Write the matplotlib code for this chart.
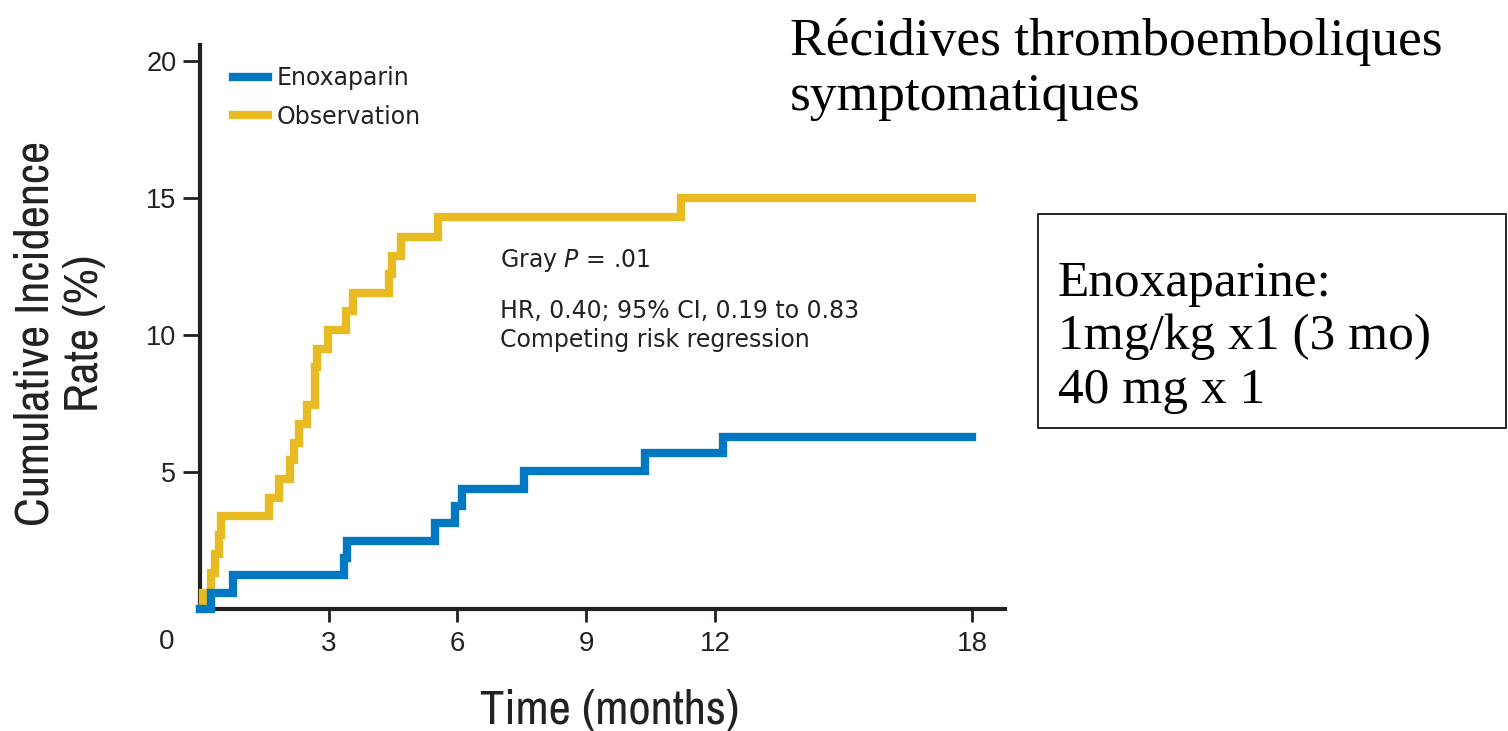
import matplotlib
matplotlib.use("Agg")
import matplotlib.pyplot as plt
from matplotlib.patches import Rectangle
from matplotlib import font_manager

# cumulative incidence (months, %)
obs_t = [0, 0.08, 0.25, 0.35, 0.45, 0.5, 1.6, 1.85, 2.1, 2.2, 2.3, 2.5,
         2.68, 2.72, 2.98, 3.4, 3.57, 4.41, 4.47, 4.68, 5.54, 11.2, 18]
obs_v = [0, 0.6, 1.3, 2.0, 2.7, 3.4, 4.05, 4.75, 5.45, 6.05, 6.75, 7.45,
         8.85, 9.5, 10.2, 10.9, 11.55, 12.25, 12.9, 13.6, 14.3, 15.0, 15.0]

eno_t = [0, 0.26, 0.78, 3.36, 3.42, 5.48, 5.94, 6.1, 7.54, 10.37, 12.18, 18]
eno_v = [0, 0.6, 1.25, 1.85, 2.5, 3.15, 3.75, 4.4, 5.05, 5.7, 6.3, 6.3]

xticks = [3, 6, 9, 12, 18]
yticks = [5, 10, 15, 20]

YELLOW = '#E8BB22'
BLUE = '#0079C2'
DARK = '#231F20'
TXT = '#222222'

# look for a narrow sans for the axis titles
narrow_fam = None
for f in font_manager.fontManager.ttflist:
    n = f.name
    if ('Narrow' in n or 'Condensed' in n) and 'Serif' not in n and 'Mono' not in n:
        narrow_fam = n
        break
narrow_kw = {'family': narrow_fam} if narrow_fam else {'family': 'Liberation Sans'}
narrow_size = 35 if narrow_fam else 28

W, H = 1508, 731


def fx(px):
    return px / W


def fy(py):
    return 1 - py / H


fig = plt.figure(figsize=(W / 100, H / 100), dpi=100)
ax = fig.add_axes([200 / W, 122 / H, 805 / W, 564 / H])

ax.plot(obs_t, obs_v, drawstyle='steps-post', color=YELLOW, lw=6,
        solid_joinstyle='miter', clip_on=False, label='Observation', zorder=3)
ax.plot(eno_t, eno_v, drawstyle='steps-post', color=BLUE, lw=6,
        solid_joinstyle='miter', clip_on=False, label='Enoxaparin', zorder=4)

ax.set_xlim(0, 18.76)
ax.set_ylim(0, 20.6)
ax.set_xticks(xticks)
ax.set_yticks(yticks)
for s in ['top', 'right']:
    ax.spines[s].set_visible(False)
for s in ['left', 'bottom']:
    ax.spines[s].set_linewidth(3)
    ax.spines[s].set_color(DARK)
ax.tick_params(axis='y', length=12, width=2, pad=5, colors=DARK,
               labelsize=19.5, labelcolor=TXT)
ax.tick_params(axis='x', length=9, width=2, pad=7, colors=DARK,
               labelsize=20, labelcolor=TXT)
for lab in ax.get_xticklabels() + ax.get_yticklabels():
    lab.set_family('Liberation Sans')
ax.annotate('0', xy=(0, 0), xytext=(-33, -33), textcoords='offset pixels',
            ha='center', va='center', fontsize=20, family='Liberation Sans',
            color=TXT)

# legend, blue first
h, l = ax.get_legend_handles_labels()
leg = ax.legend(h[::-1], l[::-1], loc='upper left', bbox_to_anchor=(0.041, 0.963),
                frameon=False, borderpad=0, borderaxespad=0, handlelength=1.5,
                handletextpad=0.35, labelspacing=0.62,
                prop={'family': 'DejaVu Sans', 'size': 17})
for t in leg.get_texts():
    t.set_color(TXT)

fig.text(fx(500), fy(267), r'Gray $P$ = .01', fontsize=17,
         family='DejaVu Sans', color=TXT, va='baseline')
fig.text(fx(500), fy(347), 'HR, 0.40; 95% CI, 0.19 to 0.83\nCompeting risk regression',
         fontsize=17, family='DejaVu Sans', color=TXT, va='baseline',
         linespacing=1.25)

fig.text(fx(610), fy(710), 'Time (months)', ha='center', va='center',
         fontsize=narrow_size, color=TXT, **narrow_kw)
fig.text(fx(60), fy(333), 'Cumulative Incidence\nRate (%)', rotation=90,
         ha='center', va='center', multialignment='center',
         fontsize=narrow_size, color=TXT, linespacing=1.2, **narrow_kw)

# right-hand annotations
fig.text(fx(790), fy(110), 'Récidives thromboemboliques\nsymptomatiques',
         ha='left', va='baseline', fontsize=38.5, family='Liberation Serif',
         linespacing=1.2)
fig.patches.append(Rectangle((fx(1038), fy(428)), 468 / W, 214 / H,
                             transform=fig.transFigure, fill=False,
                             edgecolor='black', lw=1.2))
fig.text(fx(1058), fy(403), 'Enoxaparine:\n1mg/kg x1 (3 mo)\n40 mg x 1',
         ha='left', va='baseline', fontsize=37, family='Liberation Serif',
         linespacing=1.2)

fig.savefig('out.png', dpi=100)
